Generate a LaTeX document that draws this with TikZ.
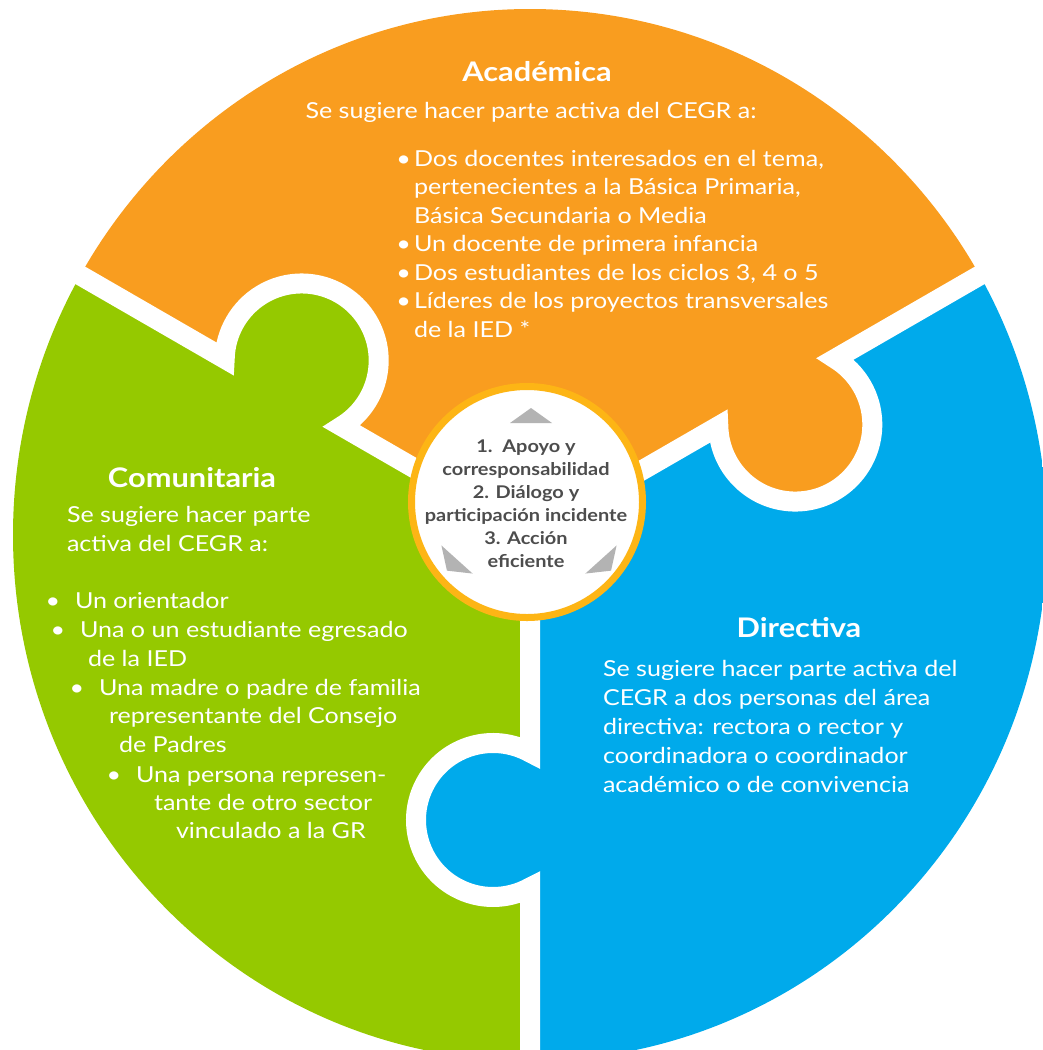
\documentclass[tikz,border=0pt]{standalone}
\usepackage{fontspec}
\setmainfont{Lato}[FakeStretch=1.14]
\usetikzlibrary{calc, positioning}

\definecolor{cOrange}{HTML}{F99D1F}
\definecolor{cGreen}{HTML}{95C900}
\definecolor{cBlue}{HTML}{00AAEB}
\definecolor{cRing}{HTML}{FDB515}
\definecolor{cInk}{HTML}{4D4D4D}
\definecolor{cTri}{HTML}{B3B3B3}

\begin{document}
\begin{tikzpicture}[
      x=1pt, y=1pt,
      every node/.style = {inner sep=0pt, outer sep=0pt},
      ttl/.style = {font=\fontsize{27}{32}\selectfont\bfseries,
                    text=white, anchor=base},
      body/.style = {font=\fontsize{22}{28}\selectfont,
                     text=white, anchor=base west},
      gap/.style = {draw=white, line width=20},
      hub/.style = {circle, fill=white, draw=cRing, line width=7,
                    minimum size=231pt},
      hubtxt/.style = {font=\fontsize{17.5}{23}\selectfont\bfseries,
                       text=cInk, align=center},
      tri/.style = {fill=cTri},
    ]
    \useasboundingbox (0,0) rectangle (1042,-1050);
    \coordinate (C) at (530,-535);
    % the three pieces
    \begin{scope}
      \clip (C) ellipse [x radius=517, y radius=526];
      \fill[cOrange] (C) -- ($(C)+(30:1200)$) -- ($(C)+(90:1200)$)
        -- ($(C)+(150:1200)$) -- cycle;
      \fill[cGreen] (C) -- ($(C)+(150:1200)$) -- ($(C)+(210:1200)$)
        -- ($(C)+(270:1200)$) -- cycle;
      \fill[cBlue] (C) -- ($(C)+(270:1200)$) -- ($(C)+(330:1200)$)
        -- ($(C)+(30:1200)$) -- cycle;
    \end{scope}
    % knobs
    \foreach \a/\col in {150/cGreen, 30/cOrange, 270/cBlue}
      \fill[\col] ($(C)+(\a:285)+({\a-90}:37)$) circle[radius=77];
    % white gaps
    \foreach \a in {150, 30, 270}
      \draw[gap] (C) -- ($(C)+(\a:217.47)$)
        arc[start angle=\a+151.28, end angle=\a+388.72, radius=77]
        -- ($(C)+(\a:700)$);
    % centre
    \node[hub] (hub) at (527,-502) {};
    \node[hubtxt] (hubText) at (526,-504)
      {1.\ \ Apoyo y\\corresponsabilidad\\2. Diálogo y\\
       participación incidente\\3. Acción\\eficiente};
    \foreach \px/\py/\ang in {531/-423/90, 457/-559.5/228, 601/-559.5/312}
      \fill[tri, shift={(\px,\py)}, rotate=\ang-90]
        (-21,0) -- (21,0) -- (0,15) -- cycle;
    % Academica
    \node[ttl] (acadTitle) at (537,-81) {Académica};
    \node[body, anchor=base] (acadIntro) at (531,-118)
      {Se sugiere hacer parte activa del CEGR a:};
    \foreach \txt [count=\i from 0] in {{Dos docentes interesados en el tema,},
        {pertenecientes a la Básica Primaria,}, {Básica Secundaria o Media},
        {Un docente de primera infancia}, {Dos estudiantes de los ciclos 3, 4 o 5},
        {Líderes de los proyectos transversales}, {de la IED *}}
      \node[body] (acad\i) at (414, {-166-28.5*\i}) {\txt};
    \foreach \i in {0,3,4,5}
      \node[body, anchor=base east] at ([xshift=-3pt]acad\i.base west) {•};
    % Comunitaria
    \node[ttl] (comTitle) at (192,-487) {Comunitaria};
    \node[body] (comIntroA) at (67,-522) {Se sugiere hacer parte};
    \node[body] (comIntroB) at (67,-551) {activa del CEGR a:};
    \foreach \x/\y/\txt [count=\i] in {75/608/{Un orientador},
        80/637/{Una o un estudiante egresado}, 88/666/{de la IED},
        99/695/{Una madre o padre de familia},
        109/723/{representante del Consejo}, 119/752/{de Padres},
        136/782/{Una persona represen-}, 154/810/{tante de otro sector},
        176/838/{vinculado a la GR}}
      \node[body] (com\i) at (\x,-\y) {\txt};
    \foreach \i in {1,2,4,7}
      \node[body, anchor=base] at ([xshift=-22pt]com\i.base west) {•};
    % Directiva
    \node[ttl] (dirTitle) at (799,-637) {Directiva};
    \foreach \txt [count=\i from 0] in {{Se sugiere hacer parte activa del},
        {CEGR a dos personas del área}, {directiva: rectora o rector y},
        {coordinadora o coordinador}, {académico o de convivencia}}
      \node[body] (dir\i) at (603, {-676-29*\i}) {\txt};
\end{tikzpicture}
\end{document}
